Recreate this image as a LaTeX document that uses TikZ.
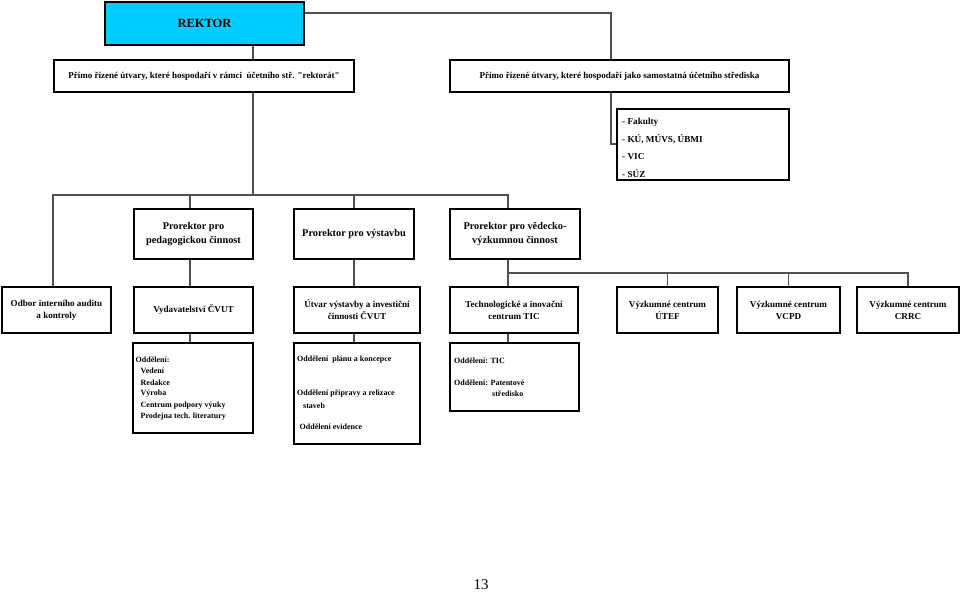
\documentclass[tikz,border=0pt]{standalone}
\usepackage{fontspec}
\setmainfont{Liberation Serif}[Ligatures=TeXOff]
\definecolor{rekcyan}{RGB}{0,204,255}
\definecolor{linegray}{RGB}{80,80,80}
\begin{document}
\begin{tikzpicture}[x=1pt,y=-1pt,
  box/.style={draw=black,line width=1.4pt,rectangle,inner sep=0pt,align=center},
  thickbox/.style={box,line width=2.2pt},
  conn/.style={draw=linegray,line width=1.2pt},
  ftop/.style={font=\fontsize{9}{11}\selectfont\bfseries},
  fpro/.style={font=\fontsize{10.3}{13.5}\selectfont\bfseries},
  frow/.style={font=\fontsize{9.1}{12}\selectfont\bfseries},
  ffak/.style={font=\fontsize{9.2}{11}\selectfont\bfseries,anchor=west,inner sep=0pt},
  fsub/.style={font=\fontsize{8}{10}\selectfont\bfseries,anchor=west,inner sep=0pt}
]
\useasboundingbox (0,0) rectangle (960,593);
\fill[white] (0,0) rectangle (960,593);

% top
\node[thickbox,fill=rekcyan,minimum width=199pt,minimum height=43pt,font=\fontsize{12.5}{14}\selectfont\bfseries] (rektor) at (204.5,23.5) {REKTOR};
\node[box,minimum width=300pt,minimum height=32pt,ftop] (lb) at (204,76) {Přímo řízené útvary, které hospodaří v rámci\ \ účetního stř. "rektorát"};
\node[box,minimum width=339pt,minimum height=32pt,ftop] (rb) at (619.5,76) {Přímo řízené útvary, které hospodaří jako samostatná účetního střediska};
\node[thickbox,minimum width=172pt,minimum height=71pt] (fak) at (703,144.5) {};
\node[ffak] (f1) at (622,122) {- Fakulty};
\node[ffak] (f2) at (622,139.5) {- KÚ, MÚVS, ÚBMI};
\node[ffak] (f3) at (622,157) {- VIC};
\node[ffak] (f4) at (622,174) {- SÚZ};

% prorektors
\node[box,minimum width=119pt,minimum height=50pt,fpro] (p1) at (193.5,234) {Prorektor pro\\pedagogickou činnost};
\node[box,minimum width=120pt,minimum height=50pt,fpro] (p2) at (354,234) {Prorektor pro výstavbu};
\node[box,minimum width=130pt,minimum height=50pt,fpro] (p3) at (515,234) {Prorektor pro vědecko-\\výzkumnou činnost};

% row 4
\node[box,minimum width=109pt,minimum height=46pt,frow] (odbor) at (56.5,310) {Odbor interního auditu\\a kontroly};
\node[box,minimum width=119pt,minimum height=46pt,frow] (vyd) at (193.5,310) {Vydavatelství ČVUT};
\node[box,minimum width=126pt,minimum height=46pt,frow] (utv) at (357,310) {Útvar výstavby a investiční\\činnosti ČVUT};
\node[box,minimum width=128pt,minimum height=46pt,frow] (tic) at (514,310) {Technologické a inovační\\centrum TIC};
\node[box,minimum width=101pt,minimum height=46pt,frow] (utef) at (667.5,310) {Výzkumné centrum\\ÚTEF};
\node[box,minimum width=103pt,minimum height=46pt,frow] (vcpd) at (788.5,310) {Výzkumné centrum\\VCPD};
\node[box,minimum width=102pt,minimum height=46pt,frow] (crrc) at (908,310) {Výzkumné centrum\\CRRC};

% row 5
\node[box,minimum width=120pt,minimum height=90pt] (vydsub) at (193,388) {};
\node[fsub] (v1) at (135.5,360) {Oddělení:};
\node[fsub] (v2) at (140.5,371) {Vedení};
\node[fsub] (v3) at (140.5,382.5) {Redakce};
\node[fsub] (v4) at (140.5,394) {Výroba};
\node[fsub] (v5) at (140.5,405.5) {Centrum podpory výuky};
\node[fsub] (v6) at (140.5,416.5) {Prodejna tech. literatury};

\node[box,minimum width=126pt,minimum height=101pt] (utvsub) at (357,393.5) {};
\node[fsub] (u1) at (297,360) {Oddělení\ \ plánu a koncepce};
\node[fsub] (u2) at (297,394) {Oddělení přípravy a relizace};
\node[fsub] (u3) at (303,405.5) {staveb};
\node[fsub] (u4) at (299.5,427) {Oddělení evidence};

\node[box,minimum width=129pt,minimum height=68pt] (ticsub) at (514.5,377) {};
\node[fsub] (t1) at (454,361) {Oddělení: TIC};
\node[fsub] (t2) at (454,383) {Oddělení: Patentové};
\node[fsub] (t3) at (492,394) {středisko};

% page number
\node[font=\fontsize{15}{17}\selectfont,inner sep=0pt] (pg) at (481,585) {13};

% connector coordinates
\coordinate (c1) at (611,13);
\coordinate (c2) at (253,60);
\coordinate (c3) at (611,144);
\coordinate (b1L) at (53,195);
\coordinate (b1R) at (508,195);
\coordinate (x190) at (190,0);
\coordinate (b2L) at (508,273);
\coordinate (b2R) at (908,273);

\begin{scope}[conn]
\draw (rektor.east |- c1) -- (c1) -- (c1 |- rb.north);
\draw (rektor.south -| c2) -- (lb.north -| c2);
\draw (rb.south -| c3) -- (c3) -- (fak.west |- c3);
\draw (lb.south -| c2) -- (c2 |- b1L);
\draw (odbor.north -| b1L) -- (b1L) -- (b1R) -- (p3.north -| b1R);
\draw (x190 |- b1L) -- (p1.north -| x190);
\draw (p2.north |- b1L) -- (p2.north);
\draw (p1.south -| x190) -- (vyd.north -| x190);
\draw (p2.south) -- (utv.north -| p2.south);
\draw (p3.south -| b1R) -- (tic.north -| b1R);
\draw (b2L) -- (b2R) -- (crrc.north);
\draw (utef.north |- b2L) -- (utef.north);
\draw (vcpd.north |- b2L) -- (vcpd.north);
\draw (vyd.south -| x190) -- (vydsub.north -| x190);
\draw (utv.south -| p2.south) -- (utvsub.north -| p2.south);
\draw (tic.south -| b1R) -- (ticsub.north -| b1R);
\end{scope}
\end{tikzpicture}
\end{document}
